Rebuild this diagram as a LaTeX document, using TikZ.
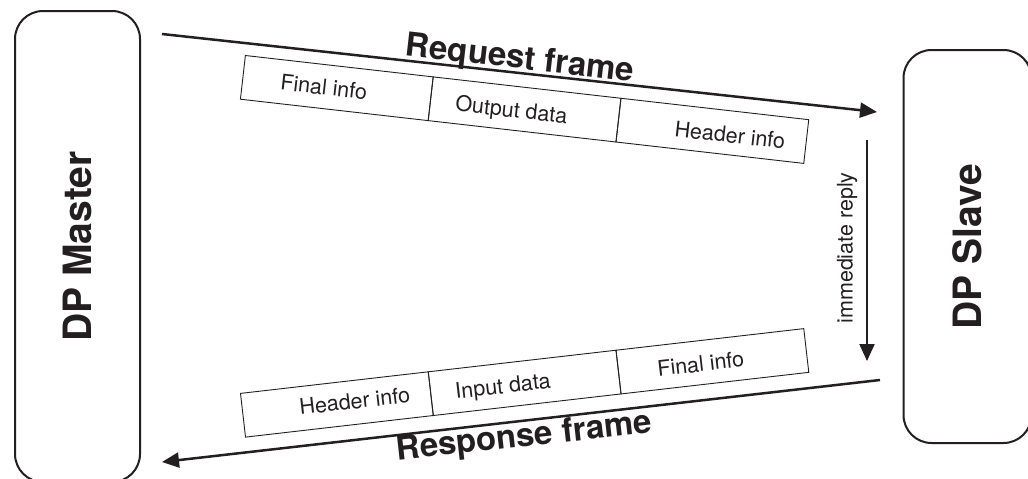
\documentclass[tikz,border=0pt]{standalone}
\usepackage{fontspec}
\setmainfont{TeX Gyre Heros}
\usetikzlibrary{arrows.meta}
\definecolor{ink}{HTML}{231F20}
\begin{document}
\begin{tikzpicture}[x=1pt,y=-1pt,
  box/.style={draw=ink, line width=2pt, rounded corners=28pt, rotate=90, inner sep=0pt,
    font=\fontsize{39}{39}\selectfont\bfseries, text=ink},
  cell/.style={draw=ink, line width=0.9pt, minimum width=189pt, minimum height=44pt,
    inner sep=0pt, anchor=north west, transform shape},
  lbl/.style={font=\fontsize{21.5}{22}\selectfont, text=ink, inner sep=0pt},
  ttl/.style={font=\fontsize{33}{33}\selectfont\bfseries, text=ink, inner sep=0pt, anchor=base},
  flow/.style={draw=ink, line width=2.5pt, -{Triangle[length=17pt,width=15pt]}}
]
\useasboundingbox (0,0) rectangle (1028,479);

% stations
\node[box, minimum width=471pt, minimum height=125pt] (master) at (77.5,246.5) {DP Master};
\node[box, minimum width=393pt, minimum height=128pt] (slave) at (967.5,246.5) {DP Slave};

% request frame
\coordinate (reqA) at (162,34);
\coordinate (reqB) at (877,112);
\draw[flow] (reqA) -- (reqB);
\node[ttl, rotate=-6.5] (reqT) at (519,68.5) {Request frame};
\begin{scope}[shift={(245,55)}, rotate=-6.5]
  \node[cell] (rq1) at (0,0) {};
  \node[cell] (rq2) at (189,0) {};
  \node[cell] (rq3) at (378,0) {};
  \node[lbl, transform shape] (rqt1) at (82,23) {Final info};
  \node[lbl, transform shape] (rqt2) at (271,26) {Output data};
  \node[lbl, transform shape] (rqt3) at (491,24.6) {Header info};
\end{scope}

% immediate reply
\coordinate (repA) at (867,140);
\coordinate (repB) at (867,361);
\draw[flow, line width=2.2pt] (repA) -- (repB);
\node[lbl, rotate=90] (repT) at (847,248) {immediate reply};

% response frame
\coordinate (resA) at (880,380);
\coordinate (resB) at (162,462);
\draw[flow] (resA) -- (resB);
\node[ttl, rotate=6.3] (resT) at (525,446.5) {Response frame};
\begin{scope}[shift={(240,393)}, rotate=6.56]
  \node[cell] (rs1) at (0,0) {};
  \node[cell] (rs2) at (189,0) {};
  \node[cell] (rs3) at (378,0) {};
  \node[lbl, transform shape] (rst1) at (113,21) {Header info};
  \node[lbl, transform shape] (rst2) at (262,25) {Input data};
  \node[lbl, transform shape] (rst3) at (461,23.6) {Final info};
\end{scope}
\end{tikzpicture}
\end{document}
